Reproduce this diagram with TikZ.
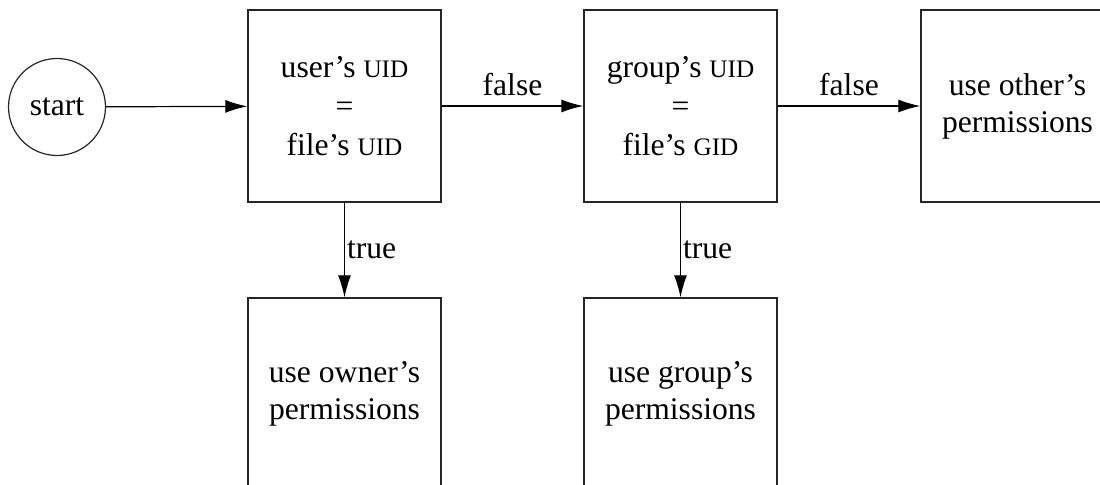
\documentclass[tikz,border=0pt]{standalone}
\usepackage{fontspec}
\setmainfont{Liberation Serif}
\usetikzlibrary{arrows.meta}
\newcommand{\uid}[1]{{\fontsize{12.6}{18.5}\selectfont #1}}
\begin{document}
\begin{tikzpicture}[x=0.5pt,y=-0.5pt,
  every node/.style={font=\fontsize{15.8}{18.5}\selectfont},
  box/.style={draw=black!85, line width=0.7pt, rectangle, minimum width=96.5pt, minimum height=96pt, align=center, inner sep=0pt},
  startc/.style={draw=black!85, line width=0.6pt, circle, minimum size=48.5pt, inner sep=0pt},
  arr/.style={draw=black, line width=0.6pt, -{Latex[length=11pt,width=6.5pt]}},
  lbl/.style={inner sep=1pt}]
\useasboundingbox (0,0) rectangle (1100,485);
\node[startc] (start) at (57,107) {start};
\node[box] (b1) at (344.5,106) {user’s \uid{UID}\\[1pt]=\\[1pt]file’s \uid{UID}};
\node[box] (b2) at (680.5,106) {group’s \uid{UID}\\[1pt]=\\[1pt]file’s \uid{GID}};
\node[box] (b3) at (1017.5,106) {use other’s\\permissions};
\node[box] (b4) at (344.5,394) {use owner’s\\permissions};
\node[box] (b5) at (680.5,394) {use group’s\\permissions};
\draw[arr] (start) -- (b1);
\draw[arr] (b1) -- node[lbl, above=4pt] {false} (b2);
\draw[arr] (b2) -- node[lbl, above=4pt] {false} (b3);
\draw[arr] (b1) -- node[lbl, right=0pt] {true} (b4);
\draw[arr] (b2) -- node[lbl, right=0pt] {true} (b5);
\end{tikzpicture}
\end{document}
